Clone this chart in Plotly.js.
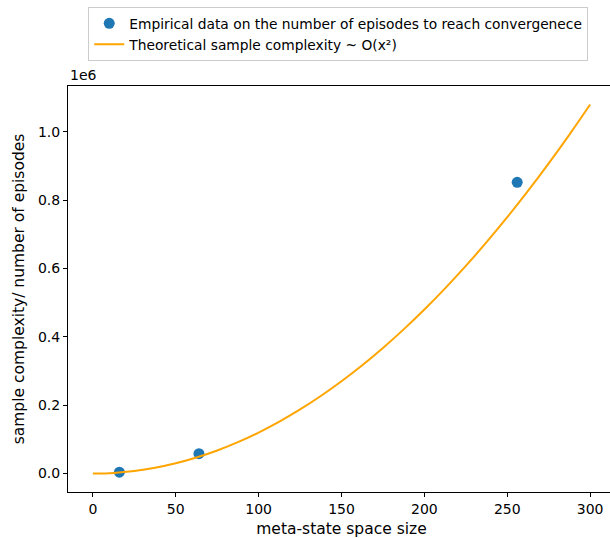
<!DOCTYPE html>
<html>
<head>
<meta charset="utf-8">
<script src="https://cdn.plot.ly/plotly-3.0.1.min.js"></script>
<style>html,body{margin:0;padding:0;overflow:hidden;background:#fff;}</style>
</head>
<body>
<div id="chart"></div>
<script>
// Empirical data
const empX = [16, 64, 256];
const empY = [4000, 58000, 852000];

// Theoretical curve
const theoX = [0, 12.5, 25, 37.5, 50, 62.5, 75, 87.5, 100, 112.5, 125, 137.5, 150,
               162.5, 175, 187.5, 200, 212.5, 225, 237.5, 250, 262.5, 275, 287.5, 300];
const theoY = [0, 1875, 7500, 16875, 30000, 46875, 67500, 91875, 120000, 151875, 187500,
               226875, 270000, 316875, 367500, 421875, 480000, 541875, 607500, 676875,
               750000, 826875, 907500, 991875, 1080000];

// Tick labels
const xTicks = [0, 50, 100, 150, 200, 250, 300];
const yTickVals = [0, 200000, 400000, 600000, 800000, 1000000];
const yTickText = ["0.0", "0.2", "0.4", "0.6", "0.8", "1.0"];

const font = {family: "DejaVu Sans", size: 14, color: "#000"};
const titleFont = {family: "DejaVu Sans", size: 15.5, color: "#000"};

const traces = [
  {
    x: empX, y: empY, type: "scatter", mode: "markers",
    name: "Empirical data on the number of episodes to reach convergenece",
    marker: {color: "#1f77b4", size: 11}
  },
  {
    x: theoX, y: theoY, type: "scatter", mode: "lines",
    name: "Theoretical sample complexity ~ O(x²)",
    line: {color: "#ffa500", width: 2, shape: "spline"}
  }
];

const layout = {
  width: 622, height: 538,
  margin: {l: 68, r: 7, t: 84, b: 46},
  paper_bgcolor: "#fff", plot_bgcolor: "#fff",
  font: font,
  showlegend: true,
  legend: {
    x: 0.037, xref: "paper", xanchor: "left",
    y: 1.195, yanchor: "top",
    bgcolor: "#fff", bordercolor: "#cccccc", borderwidth: 1,
    font: {family: "DejaVu Sans", size: 13.8, color: "#000"},
    tracegroupgap: 0
  },
  xaxis: {
    range: [-15, 315], tickvals: xTicks, ticks: "outside", ticklen: 4, tickcolor: "#000",
    showgrid: false, zeroline: false, showline: true, linecolor: "#000", linewidth: 1, mirror: true,
    tickfont: font,
    title: {text: "meta-state space size", font: titleFont, standoff: 10}
  },
  yaxis: {
    range: [-54000, 1134000], tickvals: yTickVals, ticktext: yTickText,
    ticks: "outside", ticklen: 4, tickcolor: "#000",
    showgrid: false, zeroline: false, showline: true, linecolor: "#000", linewidth: 1, mirror: true,
    tickfont: font,
    title: {text: "sample complexity/ number of episodes", font: titleFont, standoff: 9}
  },
  annotations: [
    {text: "1e6", xref: "paper", yref: "paper", x: 0, y: 1, xanchor: "left", yanchor: "bottom",
     showarrow: false, font: font, yshift: 1}
  ]
};

Plotly.newPlot("chart", traces, layout, {displayModeBar: false, staticPlot: true});
</script>
</body>
</html>
